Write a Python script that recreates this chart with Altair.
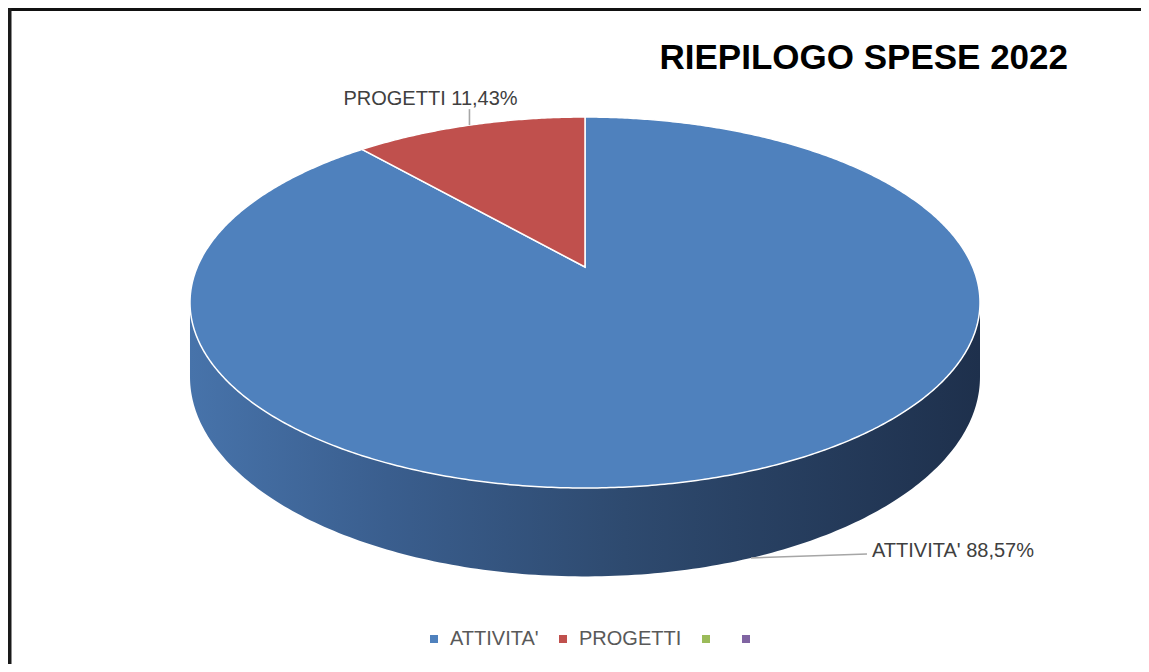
import altair as alt
import numpy as np
import pandas as pd

# ---- data ----
categorie = ["ATTIVITA'", "PROGETTI", "", " "]
valori = [88.57, 11.43, 0.0, 0.0]
colori = ["#4F81BD", "#C0504D", "#9BBB59", "#8064A2"]
titolo = "RIEPILOGO SPESE 2022"

# ---- geometry / style (3D perspective disc) ----
A, B, K, H = 387.7, 178.7, 0.1914, 71.5
CX, CY = 577, 259          # pie centre in chart pixels
W, HT = 1133, 656

leader_off = {"ATTIVITA'": (116, 4), "PROGETTI": (0, 16)}
label_off = {"ATTIVITA'": (5, -3), "PROGETTI": (-126, 4)}


def rim(phi_deg, bottom=False):
    p = np.radians(phi_deg)
    u, v = np.sin(p), np.cos(p)
    w = 1 + K * v
    x = A * u / w
    y = (B * v - (H if bottom else 0.0)) / w
    return float(x), float(y)


total = sum(valori)
slices, leaders, labels = [], [], []
start = 0.0
for cat, val in zip(categorie, valori):
    span = 360.0 * val / total
    if span > 0:
        n = max(4, int(span * 2))
        ring = [[0.0, 0.0]]
        for phi in np.linspace(start, start + span, n):
            ring.append(list(rim(phi)))
        ring.append([0.0, 0.0])
        slices.append({"type": "Feature", "properties": {"categoria": cat},
                       "geometry": {"type": "Polygon", "coordinates": [ring]}})
        mid = start + span / 2
        front = np.cos(np.radians(mid)) < -K
        px, py = rim(mid, bottom=front)
        ox, oy = leader_off[cat]
        ex, ey = px + ox, py + oy
        leaders.append({"type": "Feature", "properties": {"categoria": cat},
                        "geometry": {"type": "LineString",
                                     "coordinates": [[px, py], [ex, ey]]}})
        lx, ly = label_off[cat]
        testo = f"{cat} " + f"{val:.2f}".replace(".", ",") + "%"
        labels.append({"lon": ex + lx, "lat": ey + ly, "etichetta": testo})
    start += span

# side wall (front half between top rim and bottom rim)
phi_r = np.degrees(np.arccos(-K))
phi_l = 360 - phi_r
wall_ring = [list(rim(p)) for p in np.linspace(phi_r, phi_l, 200)]
wall_ring += [list(rim(p, bottom=True)) for p in np.linspace(phi_l, phi_r, 200)]
wall_ring.append(wall_ring[0])
wall = [{"type": "Feature", "properties": {"parte": "lato"},
         "geometry": {"type": "Polygon", "coordinates": [wall_ring]}}]

proj = alt.Projection(type="identity", reflectY=True, scale=1, translate=[CX, CY])

grad = alt.LinearGradient(
    gradient="linear", x1=0, x2=1, y1=0, y2=0,
    stops=[alt.GradientStop(color="#4773AA", offset=0),
           alt.GradientStop(color="#3A5E8E", offset=0.25),
           alt.GradientStop(color="#2E4A6F", offset=0.55),
           alt.GradientStop(color="#1E304C", offset=1)])

wall_layer = alt.Chart(alt.Data(values=wall)).mark_geoshape(
    fill=grad, strokeWidth=0
).encode(opacity=alt.value(1)).project(**proj.to_dict())

top_layer = alt.Chart(alt.Data(values=slices)).mark_geoshape(
    stroke="white", strokeWidth=1.5
).encode(
    color=alt.Color("properties.categoria:N",
                    scale=alt.Scale(domain=categorie, range=colori),
                    legend=alt.Legend(title=None, orient="none", legendX=416, legendY=621,
                                      direction="horizontal", columns=4,
                                      symbolType="square", symbolSize=64,
                                      symbolStrokeWidth=0, labelFontSize=20,
                                      labelFont="Liberation Sans", labelColor="#595959",
                                      labelOffset=6, columnPadding=14, padding=0))
).project(**proj.to_dict())

leader_layer = alt.Chart(alt.Data(values=leaders)).mark_geoshape(
    filled=False, stroke="#A6A6A6", strokeWidth=1.6
).encode(opacity=alt.value(1)).project(**proj.to_dict())

label_layer = alt.Chart(pd.DataFrame(labels)).mark_text(
    align="left", baseline="alphabetic", fontSize=20,
    font="Liberation Sans", color="#404040"
).encode(longitude="lon:Q", latitude="lat:Q", text="etichetta:N").project(**proj.to_dict())

title_layer = alt.Chart(pd.DataFrame({"t": [titolo]})).mark_text(
    align="right", baseline="alphabetic", fontSize=35, fontWeight="bold",
    font="Liberation Sans", color="#000000"
).encode(x=alt.value(1060), y=alt.value(61), text="t:N")

one = pd.DataFrame({"d": [0]})
top_border = alt.Chart(one).mark_rule(color="#111111", strokeWidth=3).encode(
    x=alt.value(0), x2=alt.value(W), y=alt.value(1.5))
left_border = alt.Chart(one).mark_rule(color="#1a1a1a", strokeWidth=3.5).encode(
    x=alt.value(1.75), y=alt.value(0), y2=alt.value(HT))

chart = alt.layer(
    wall_layer, top_layer, leader_layer, label_layer, title_layer, top_border, left_border
).properties(
    width=W, height=HT, padding=0, background="white",
    autosize=alt.AutoSizeParams(type="none")
).configure_view(stroke=None)

chart.save("out.html", embed_options={"renderer": "svg", "actions": False})
